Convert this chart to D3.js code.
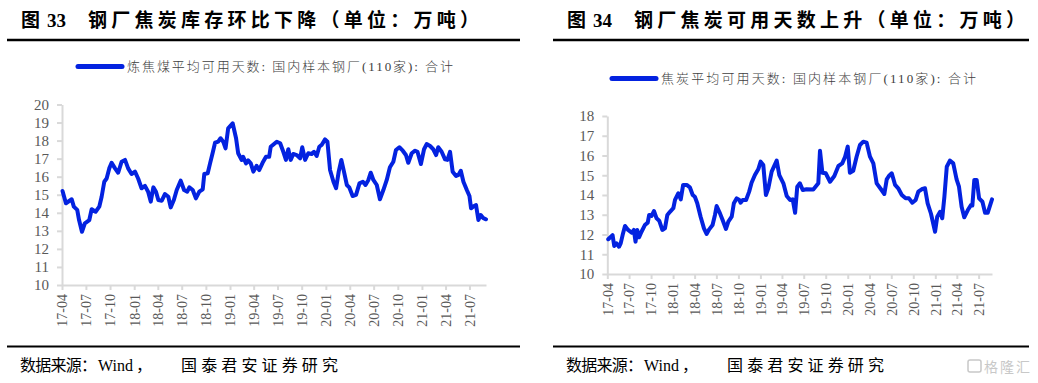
<!DOCTYPE html>
<html>
<head>
<meta charset="utf-8">
<script src="https://cdn.jsdelivr.net/npm/d3@7"></script>
<style>
    body { margin: 0; background: #fff; }
    svg text { font-family: "Liberation Serif", "Noto Sans CJK SC", serif; }
    .axis path, .axis line { stroke: #d9d9d9; stroke-width: 2px; }
    .axis text { fill: #595959; }
    .chart-title { font-size: 19px; font-weight: bold; fill: #000; }
    .legend-text { font-size: 13px; font-weight: 300; fill: #404040; }
    .source-text { font-size: 16px; fill: #000; }
</style>
</head>
<body>
<div id="chartDiv"></div>
<script>

// Coking coal (炼焦煤) available days, weekly readings
const coalDates = [
    "2017-04-03","2017-04-16","2017-05-08","2017-05-16","2017-05-29","2017-06-05","2017-06-16","2017-06-27","2017-07-14","2017-07-23",
    "2017-08-07","2017-08-21","2017-08-30","2017-09-09","2017-09-18","2017-09-28","2017-10-07","2017-10-20","2017-11-01","2017-11-14",
    "2017-11-27","2017-12-09","2017-12-22",
    "2018-01-04","2018-01-16","2018-01-29","2018-02-11","2018-02-23","2018-03-05","2018-03-15","2018-03-25","2018-04-03","2018-04-16",
    "2018-04-28","2018-05-11","2018-05-20","2018-06-01","2018-06-12","2018-06-27","2018-07-10","2018-07-22","2018-07-30","2018-08-12",
    "2018-08-24","2018-09-06","2018-09-19","2018-09-25","2018-10-08","2018-10-17","2018-10-27","2018-11-05","2018-11-17","2018-11-26",
    "2018-12-06","2018-12-15","2018-12-25",
    "2019-01-11","2019-01-24","2019-02-01","2019-02-14","2019-02-20","2019-03-03","2019-03-11","2019-03-21","2019-03-31","2019-04-12",
    "2019-04-22","2019-05-05","2019-05-18","2019-05-30","2019-06-05","2019-06-28","2019-07-11","2019-07-23","2019-08-02","2019-08-11",
    "2019-08-20","2019-08-30","2019-09-12","2019-09-25","2019-10-03","2019-10-14","2019-10-26","2019-11-08","2019-11-17","2019-11-27",
    "2019-12-07","2019-12-16","2019-12-29",
    "2020-01-07","2020-01-17","2020-01-30","2020-02-09","2020-02-19","2020-02-29","2020-03-10","2020-03-21","2020-03-30","2020-04-12",
    "2020-04-25","2020-05-08","2020-05-21","2020-05-31","2020-06-11","2020-06-20","2020-06-30","2020-07-13","2020-07-25","2020-08-07",
    "2020-08-20","2020-09-01","2020-09-14","2020-09-24","2020-10-07","2020-10-20","2020-11-01","2020-11-10","2020-11-23","2020-12-06",
    "2020-12-15","2020-12-28",
    "2021-01-09","2021-01-19","2021-02-01","2021-02-13","2021-02-24","2021-03-04","2021-03-17","2021-03-30","2021-04-08","2021-04-18",
    "2021-04-28","2021-05-11","2021-05-20","2021-05-29","2021-06-08","2021-06-21","2021-07-01","2021-07-07","2021-07-19","2021-07-26",
    "2021-08-04","2021-08-13","2021-08-23","2021-09-02"
];
const coalDays = [
    15.21,14.53,14.75,14.34,14.16,13.6,12.95,13.42,13.6,14.2,
    14.06,14.34,14.89,15.72,15.9,16.46,16.77,16.46,16.22,16.83,
    16.93,16.46,16.15,
    16.28,15.9,15.36,15.49,15.17,14.62,15.41,15.17,14.71,14.67,
    15.04,14.89,14.3,14.71,15.26,15.78,15.26,15.17,15.41,15.26,
    14.8,15.17,15.3,16.15,16.19,16.74,17.33,17.88,17.94,18.13,
    17.94,17.57,18.68,
    18.96,18.13,17.3,16.93,17.1,16.74,16.9,16.74,16.28,16.6,
    16.37,16.77,17.1,17.1,17.66,17.94,17.85,17.38,16.93,17.52,
    16.93,17.26,17.2,17.02,17.63,16.93,17.3,17.26,17.38,17.15,
    17.66,17.76,18.07,
    17.94,16.37,15.72,15.36,16.28,16.93,16.28,15.54,15.41,14.93,
    14.99,15.63,15.72,15.54,15.82,16.22,15.82,15.54,14.75,15.26,
    15.82,16.52,16.83,17.48,17.63,17.44,17.2,16.77,17.3,17.44,
    17.38,16.7,
    17.52,17.81,17.7,17.52,17.2,17.63,17.38,16.96,16.93,17.38,
    16.28,16.04,16.1,16.33,15.72,15.26,14.93,14.25,14.38,14.43,
    13.6,13.88,13.7,13.64
];

// Coke (焦炭) available days, weekly readings
const cokeDates = [
    "2017-04-05","2017-04-23","2017-04-30","2017-05-10","2017-05-20","2017-05-27","2017-06-04","2017-06-14","2017-06-27","2017-07-12",
    "2017-07-21","2017-07-28","2017-08-04","2017-08-12","2017-08-22","2017-09-05","2017-09-17","2017-09-23","2017-10-03","2017-10-13",
    "2017-10-24","2017-11-04","2017-11-17","2017-11-28","2017-12-08","2017-12-19",
    "2018-01-02","2018-01-09","2018-01-23","2018-02-02","2018-02-12","2018-02-27","2018-03-12","2018-03-24","2018-04-02","2018-04-12",
    "2018-04-26","2018-05-10","2018-05-21","2018-06-01","2018-06-15","2018-06-25","2018-07-02","2018-07-16","2018-07-27","2018-08-10",
    "2018-08-20","2018-09-03","2018-09-12","2018-09-24","2018-10-05","2018-10-10","2018-10-19","2018-11-02","2018-11-15","2018-11-25",
    "2018-12-09","2018-12-23",
    "2019-01-02","2019-01-13","2019-01-24","2019-02-03","2019-02-17","2019-03-10","2019-03-21","2019-04-07","2019-04-21","2019-05-05",
    "2019-05-16","2019-05-26","2019-06-04","2019-06-15","2019-06-27","2019-07-13","2019-08-10","2019-08-31","2019-09-07","2019-09-17",
    "2019-10-01","2019-10-19","2019-11-06","2019-11-23","2019-12-09","2019-12-21",
    "2020-01-01","2020-01-10","2020-01-24","2020-02-07","2020-02-21","2020-03-06","2020-03-20","2020-04-03","2020-04-17","2020-05-01",
    "2020-05-19","2020-06-02","2020-06-12","2020-06-21","2020-07-03","2020-07-17","2020-07-30","2020-08-14","2020-08-30","2020-09-13",
    "2020-09-27","2020-10-11","2020-10-22","2020-11-05","2020-11-19","2020-11-30","2020-12-14","2020-12-31",
    "2021-01-09","2021-01-21","2021-01-30","2021-02-08","2021-02-18","2021-03-03","2021-03-17","2021-03-31","2021-04-10","2021-04-21",
    "2021-05-02","2021-05-17","2021-05-30","2021-06-05","2021-06-13","2021-06-23","2021-07-03","2021-07-17","2021-07-28","2021-08-08",
    "2021-08-26"
];
const cokeDays = [
    11.76,11.97,11.42,11.55,11.38,11.55,11.97,12.43,12.23,12.09,
    12.23,11.64,12.23,11.86,12.14,12.48,12.6,12.99,12.94,13.19,
    12.82,12.7,12.23,12.31,12.99,13.15,
    13.33,13.75,14.09,13.78,14.51,14.51,14.39,14.0,13.91,13.58,
    12.9,12.31,12.03,12.26,12.48,12.99,13.44,13.07,12.73,12.28,
    12.65,12.9,13.58,13.83,13.75,13.61,13.75,13.75,14.17,14.62,
    15.01,15.3,
    15.69,15.52,14.0,14.34,15.18,15.74,15.01,14.59,13.95,13.75,
    13.78,13.1,14.42,14.59,14.25,14.29,14.28,14.59,16.24,15.13,
    15.1,14.67,14.96,15.47,15.6,15.94,
    16.45,15.13,15.23,15.94,16.53,16.7,16.65,15.94,15.6,14.59,
    14.29,14.05,14.79,14.96,15.1,14.51,14.34,14.0,13.83,13.83,
    13.61,13.75,14.17,14.29,14.34,13.58,13.05,12.14,
    12.9,13.15,12.82,13.91,15.43,15.74,15.6,14.79,14.42,13.41,
    12.87,13.24,13.49,13.47,14.76,14.76,13.83,13.66,13.1,13.1,
    13.78
];

// Y tick values
const coalTicks = [10, 11, 12, 13, 14, 15, 16, 17, 18, 19, 20];
const cokeTicks = [10, 11, 12, 13, 14, 15, 16, 17, 18];

class DaysChart {
    // Constructor method to initialize chart object
    constructor(svg, config, dates, values){
        this.svg = svg;
        this.config = config;
        this.dates = dates;
        this.values = values;
        this.initVis()
    }

    initVis(){
        let vis = this;
        let c = vis.config;

        vis.x = d3.scaleTime()
            .range([c.left, c.right]);

        vis.y = d3.scaleLinear()
            .domain(c.yDomain)
            .range([c.bottom, c.top]);

        vis.xAxis = d3.axisBottom(vis.x)
            .ticks(d3.timeMonth.every(3))
            .tickFormat(d3.timeFormat("%y-%m"))
            .tickSize(5)
            .tickSizeOuter(0);

        vis.yAxis = d3.axisLeft(vis.y)
            .tickValues(c.yTicks)
            .tickSize(5)
            .tickPadding(8)
            .tickSizeOuter(0);

        vis.g = vis.svg.append("g");

        vis.wrangleData()
    }

    wrangleData(){
        let vis = this;
        let parseDate = d3.timeParse("%Y-%m-%d");

        vis.data = vis.dates.map((d, i) => ({date: parseDate(d), value: vis.values[i]}));
        vis.updateVis()
    }

    updateVis(){
        let vis = this;
        let c = vis.config;
        let x0 = c.panelX;

        vis.x.domain([new Date(2017, 3, 1), d3.max(vis.data, d => d.date)]);

        // Title: "图", the number, then the rest
        vis.g.append("text")
            .attr("class", "chart-title")
            .attr("x", x0 + 14).attr("y", 27)
            .text("图");
        vis.g.append("text")
            .attr("class", "chart-title")
            .attr("x", x0 + 40).attr("y", 27)
            .text(c.number);
        vis.g.append("text")
            .attr("class", "chart-title")
            .attr("x", x0 + 81).attr("y", 27)
            .attr("textLength", 391)
            .attr("lengthAdjust", "spacing")
            .text(c.title);

        // Rules
        vis.g.append("line")
            .attr("x1", c.ruleX[0]).attr("x2", c.ruleX[1])
            .attr("y1", 40).attr("y2", 40)
            .attr("stroke", "#000").attr("stroke-width", 2.5);

        vis.g.append("line")
            .attr("x1", c.ruleX[0]).attr("x2", c.ruleX[1])
            .attr("y1", 346.5).attr("y2", 346.5)
            .attr("stroke", "#000").attr("stroke-width", 2);

        // Source line
        vis.g.append("text")
            .attr("class", "source-text")
            .attr("x", x0 + 13).attr("y", 371)
            .attr("textLength", 77)
            .attr("lengthAdjust", "spacing")
            .text("数据来源：");
        vis.g.append("text")
            .attr("class", "source-text")
            .attr("x", x0 + 91).attr("y", 371)
            .attr("font-size", "17px")
            .text("Wind");
        vis.g.append("text")
            .attr("class", "source-text")
            .attr("x", x0 + 129).attr("y", 371)
            .text("，");
        vis.g.append("text")
            .attr("class", "source-text")
            .attr("x", x0 + 174).attr("y", 371)
            .attr("textLength", 157)
            .attr("lengthAdjust", "spacing")
            .text("国泰君安证券研究");

        // Legend
        vis.g.append("line")
            .attr("x1", c.legend.x).attr("x2", c.legend.x + 44)
            .attr("y1", c.legend.y).attr("y2", c.legend.y)
            .attr("stroke", c.color)
            .attr("stroke-width", 5)
            .attr("stroke-linecap", "round");

        vis.g.append("text")
            .attr("class", "legend-text")
            .attr("x", c.legend.x + 49)
            .attr("y", c.legend.y + 4.5)
            .attr("textLength", c.legend.width)
            .attr("lengthAdjust", "spacing")
            .text(c.legend.label);

        // Axes
        let xG = vis.g.append("g")
            .attr("class", "x-axis axis")
            .attr("transform", "translate(0," + c.bottom + ")")
            .call(vis.xAxis);

        xG.selectAll("text")
            .attr("font-size", "14px")
            .attr("transform", "rotate(-90)")
            .attr("text-anchor", "end")
            .attr("x", -9)
            .attr("y", 0)
            .attr("dy", "0.35em");

        vis.g.append("g")
            .attr("class", "y-axis axis")
            .attr("transform", "translate(" + c.left + ",0)")
            .call(vis.yAxis)
            .selectAll("text")
            .attr("font-size", "15px");

        // Line
        let line = d3.line()
            .x(d => vis.x(d.date))
            .y(d => vis.y(d.value));

        vis.g.append("path")
            .datum(vis.data)
            .attr("fill", "none")
            .attr("stroke", c.color)
            .attr("stroke-width", 4)
            .attr("stroke-linejoin", "round")
            .attr("stroke-linecap", "round")
            .attr("d", line);
    }
}

let svg = d3.select("#chartDiv").append("svg")
    .attr("width", 1038)
    .attr("height", 383);

new DaysChart(svg, {
    panelX: 7,
    left: 62, right: 486, top: 104.5, bottom: 285,
    yDomain: [10, 20], yTicks: coalTicks,
    color: "#0322e0",
    number: "33",
    title: "钢厂焦炭库存环比下降（单位：万吨）",
    ruleX: [7, 520],
    legend: {x: 78, y: 66.5, width: 326, label: "炼焦煤平均可用天数: 国内样本钢厂(110家): 合计"}
}, coalDates, coalDays);

new DaysChart(svg, {
    panelX: 553,
    left: 607.3, right: 992, top: 116, bottom: 274,
    yDomain: [10, 18], yTicks: cokeTicks,
    color: "#0322e0",
    number: "34",
    title: "钢厂焦炭可用天数上升（单位：万吨）",
    ruleX: [553, 1029],
    legend: {x: 612, y: 78.5, width: 315, label: "焦炭平均可用天数: 国内样本钢厂(110家): 合计"}
}, cokeDates, cokeDays);

// Watermark
let mark = svg.append("g");
mark.append("rect")
    .attr("x", 968).attr("y", 360).attr("width", 13).attr("height", 12).attr("rx", 2)
    .attr("fill", "none").attr("stroke", "#c8c8c8").attr("stroke-width", 1.5);
mark.append("text")
    .attr("x", 984).attr("y", 372)
    .attr("font-size", "14px")
    .attr("fill", "#c8c8c8")
    .attr("textLength", 46)
    .text("格隆汇");

</script>
</body>
</html>
